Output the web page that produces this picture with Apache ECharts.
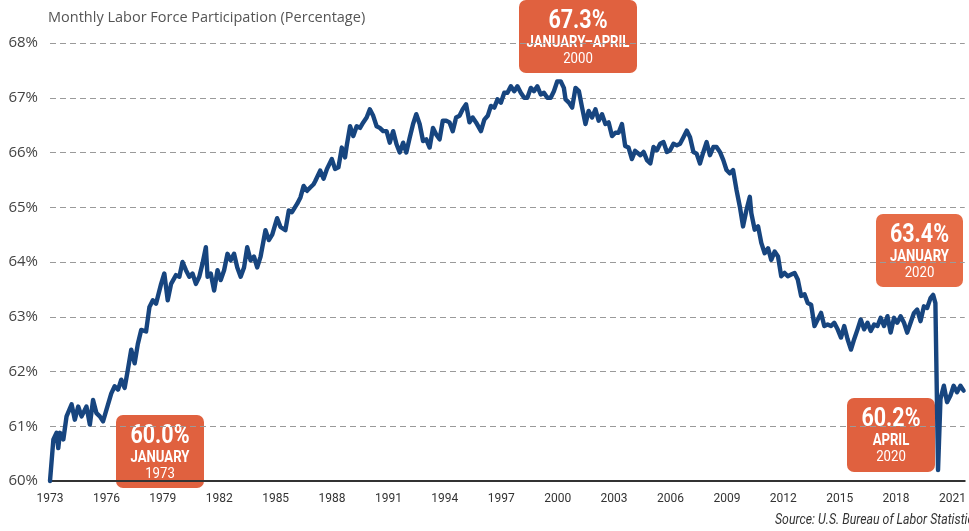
<!DOCTYPE html>
<html>
<head>
<meta charset="utf-8">
<title>Monthly Labor Force Participation</title>
<script src="https://cdn.jsdelivr.net/npm/echarts@6/dist/echarts.min.js"></script>
<style>
  html, body { margin: 0; padding: 0; background: #fff; }
  #chart { width: 969px; height: 531px; }
</style>
</head>
<body>
<div id="chart"></div>
<script>
// decimal years
var years = [
  1973.00, 1973.18, 1973.35, 1973.44, 1973.53, 1973.71, 1973.88, 1974.15, 1974.32, 1974.50,
  1974.68, 1974.94, 1975.12, 1975.29, 1975.47, 1975.65, 1975.82, 1976.00, 1976.26, 1976.44,
  1976.62, 1976.79, 1976.97, 1977.14, 1977.32, 1977.50, 1977.67, 1977.85, 1978.11, 1978.29,
  1978.47, 1978.64, 1978.91, 1979.08, 1979.26, 1979.44, 1979.70, 1979.88, 1980.05, 1980.23,
  1980.41, 1980.58, 1980.76, 1980.94, 1981.11, 1981.29, 1981.38, 1981.55, 1981.73, 1981.91,
  1982.08, 1982.26, 1982.44, 1982.61, 1982.79, 1982.96, 1983.14, 1983.32, 1983.49, 1983.67,
  1983.85, 1984.02, 1984.20, 1984.46, 1984.64, 1984.82, 1985.08, 1985.26, 1985.52, 1985.70,
  1985.87, 1986.14, 1986.32, 1986.49, 1986.67, 1986.84, 1987.02, 1987.11, 1987.37, 1987.55,
  1987.73, 1987.99, 1988.16, 1988.34, 1988.52, 1988.69, 1988.78, 1988.96, 1989.13, 1989.31,
  1989.49, 1989.66, 1989.84, 1990.01, 1990.19, 1990.37, 1990.54, 1990.72, 1990.90, 1991.07,
  1991.25, 1991.43, 1991.60, 1991.78, 1991.95, 1992.13, 1992.31, 1992.48, 1992.66, 1992.84,
  1993.01, 1993.19, 1993.37, 1993.54, 1993.72, 1993.89, 1994.07, 1994.25, 1994.42, 1994.60,
  1994.78, 1994.95, 1995.13, 1995.31, 1995.48, 1995.66, 1995.92, 1996.10, 1996.28, 1996.45,
  1996.63, 1996.80, 1996.98, 1997.16, 1997.33, 1997.51, 1997.69, 1997.86, 1998.04, 1998.22,
  1998.39, 1998.57, 1998.74, 1998.92, 1999.10, 1999.27, 1999.45, 1999.63, 1999.80, 1999.98,
  2000.16, 2000.33, 2000.42, 2000.60, 2000.77, 2000.95, 2001.13, 2001.30, 2001.48, 2001.65,
  2001.83, 2002.01, 2002.18, 2002.36, 2002.54, 2002.71, 2002.89, 2003.07, 2003.24, 2003.42,
  2003.59, 2003.77, 2003.95, 2004.12, 2004.22, 2004.40, 2004.57, 2004.75, 2004.93, 2005.10,
  2005.28, 2005.45, 2005.63, 2005.81, 2005.98, 2006.16, 2006.34, 2006.51, 2006.69, 2006.87,
  2007.04, 2007.22, 2007.39, 2007.57, 2007.75, 2007.92, 2008.10, 2008.28, 2008.45, 2008.63,
  2008.81, 2008.98, 2009.16, 2009.33, 2009.51, 2009.69, 2009.86, 2010.04, 2010.22, 2010.30,
  2010.48, 2010.66, 2010.83, 2011.01, 2011.19, 2011.36, 2011.54, 2011.72, 2011.89, 2012.07,
  2012.24, 2012.42, 2012.60, 2012.77, 2012.95, 2013.13, 2013.30, 2013.48, 2013.66, 2013.83,
  2014.01, 2014.18, 2014.36, 2014.54, 2014.71, 2014.89, 2015.07, 2015.24, 2015.42, 2015.60,
  2015.77, 2015.95, 2016.12, 2016.30, 2016.48, 2016.65, 2016.83, 2017.01, 2017.18, 2017.36,
  2017.54, 2017.71, 2017.89, 2018.06, 2018.24, 2018.42, 2018.59, 2018.77, 2018.95, 2019.12,
  2019.30, 2019.48, 2019.65, 2019.83, 2019.97, 2020.09, 2020.23, 2020.36, 2020.54, 2020.71,
  2020.89, 2021.06, 2021.24, 2021.42, 2021.59
];

// participation rate, percent
var rate = [
  60.00, 60.76, 60.88, 60.60, 60.88, 60.76, 61.18, 61.40, 61.12, 61.36,
  61.18, 61.36, 61.03, 61.48, 61.24, 61.18, 61.09, 61.30, 61.60, 61.73,
  61.67, 61.85, 61.70, 62.03, 62.40, 62.15, 62.50, 62.76, 62.73, 63.18,
  63.30, 63.24, 63.60, 63.79, 63.30, 63.60, 63.76, 63.73, 64.00, 63.85,
  63.73, 63.79, 63.60, 63.73, 63.97, 64.27, 63.73, 63.79, 63.48, 63.85,
  63.67, 63.85, 64.15, 64.03, 64.15, 63.90, 63.73, 63.90, 64.27, 64.03,
  64.10, 63.90, 64.10, 64.58, 64.40, 64.50, 64.80, 64.64, 64.58, 64.94,
  64.91, 65.06, 65.18, 65.39, 65.30, 65.36, 65.42, 65.48, 65.67, 65.52,
  65.70, 65.88, 65.70, 65.73, 66.09, 65.91, 66.12, 66.48, 66.30, 66.48,
  66.45, 66.55, 66.64, 66.79, 66.67, 66.48, 66.45, 66.39, 66.39, 66.18,
  66.39, 66.15, 66.00, 66.18, 66.00, 66.27, 66.52, 66.70, 66.52, 66.21,
  66.24, 66.09, 66.45, 66.33, 66.24, 66.58, 66.58, 66.55, 66.39, 66.64,
  66.67, 66.79, 66.88, 66.55, 66.64, 66.55, 66.39, 66.60, 66.67, 66.85,
  66.82, 66.97, 66.91, 67.09, 67.09, 67.21, 67.12, 67.21, 67.09, 67.00,
  67.00, 67.18, 67.12, 67.21, 67.06, 67.09, 67.00, 67.00, 67.12, 67.30,
  67.30, 67.18, 66.97, 66.91, 66.82, 67.18, 67.12, 66.82, 66.52, 66.76,
  66.64, 66.79, 66.58, 66.70, 66.52, 66.55, 66.30, 66.36, 66.36, 66.52,
  66.12, 66.09, 65.88, 66.03, 66.04, 65.95, 66.01, 65.86, 65.80, 66.10,
  66.04, 66.16, 66.19, 66.01, 66.04, 66.16, 66.13, 66.16, 66.28, 66.40,
  66.28, 66.01, 65.98, 65.80, 66.01, 66.19, 65.95, 66.10, 66.10, 66.01,
  65.86, 65.68, 65.62, 65.68, 65.32, 65.01, 64.65, 64.95, 65.19, 64.89,
  64.59, 64.65, 64.35, 64.16, 64.25, 64.04, 64.19, 64.10, 63.74, 63.80,
  63.74, 63.77, 63.80, 63.68, 63.38, 63.41, 63.25, 63.22, 62.83, 62.95,
  63.07, 62.83, 62.86, 62.83, 62.89, 62.77, 62.62, 62.83, 62.59, 62.40,
  62.59, 62.77, 62.95, 62.77, 62.89, 62.74, 62.86, 62.83, 62.98, 62.83,
  63.01, 62.71, 62.98, 62.89, 63.01, 62.89, 62.71, 62.89, 63.07, 63.13,
  62.92, 63.19, 63.16, 63.34, 63.40, 63.25, 60.20, 61.50, 61.74, 61.44,
  61.56, 61.74, 61.62, 61.74, 61.65
];

var startYear = 1973;
var yRange = [60, 68];

// callout boxes: big value, month, year
var callouts = [
  { big: '67.3%', month: 'JANUARY\u2013APRIL', year: '2000', x: 519, y: 0, w: 118, h: 73, color: '#E0613F' },
  { big: '63.4%', month: 'JANUARY', year: '2020', x: 876, y: 214, w: 87, h: 73, color: '#E66C47' },
  { big: '60.2%', month: 'APRIL', year: '2020', x: 847, y: 398, w: 88, h: 74, color: '#E0613F' },
  { big: '60.0%', month: 'JANUARY', year: '1973', x: 116, y: 415, w: 88, h: 73, color: '#E0613F' }
];

var sans = "Roboto, 'Liberation Sans', sans-serif";

// no condensed font installed, so squeeze the text horizontally
function squeezedText(str, x, y, font, sx, align) {
  return {
    type: 'text',
    x: x,
    y: y,
    scaleX: sx,
    style: { text: str, x: 0, y: 0, textAlign: align || 'center', textVerticalAlign: 'middle', fill: '#fff', font: font }
  };
}

function calloutGraphic(c) {
  return {
    type: 'group',
    x: c.x,
    y: c.y,
    z: 100,
    children: [
      { type: 'rect', shape: { x: 0, y: 0, width: c.w, height: c.h, r: 7 }, style: { fill: c.color } },
      squeezedText(c.big, c.w / 2, 22, 'bold 25px ' + sans, 0.86),
      squeezedText(c.month, c.w / 2, 43, 'bold 16px ' + sans, 0.82),
      squeezedText(c.year, c.w / 2, 59, '15px ' + sans, 0.88)
    ]
  };
}

var seriesData = years.map(function (y, i) {
  return [y - startYear, rate[i]];
});

var myChart = echarts.init(document.getElementById('chart'));

var source = squeezedText('Source: U.S. Bureau of Labor Statistics', 775, 520, 'italic 14px ' + sans, 0.88, 'left');
source.style.fill = '#333';

var option = {
  animation: false,
  grid: { left: 50, right: 0, top: 43, bottom: 50 },
  xAxis: {
    type: 'value',
    min: 0,
    max: 48.65,
    interval: 3,
    axisLine: { show: true, onZero: false, lineStyle: { color: '#333', width: 2 } },
    axisTick: { show: false },
    splitLine: { show: false },
    axisLabel: {
      margin: 12,
      color: '#333',
      fontSize: 12,
      fontFamily: sans,
      showMaxLabel: false,
      formatter: function (v) {
        return (v % 3 === 0) ? String(startYear + v) : '';
      }
    }
  },
  yAxis: {
    type: 'value',
    min: yRange[0],
    max: yRange[1],
    interval: 1,
    axisLine: { show: false },
    axisTick: { show: false },
    axisLabel: {
      margin: 12,
      color: '#444',
      fontSize: 15,
      fontFamily: "'Open Sans', sans-serif",
      formatter: '{value}%'
    },
    splitLine: { lineStyle: { color: '#9a9a9a', width: 1.2, type: [6, 4] } }
  },
  series: [
    {
      type: 'line',
      data: seriesData,
      showSymbol: false,
      clip: false,
      lineStyle: { color: '#17457F', width: 4.4, cap: 'round', join: 'round' },
      z: 5
    }
  ],
  graphic: [
    { type: 'text', left: 48, top: 10, style: { text: 'Monthly Labor Force Participation (Percentage)',
        fill: '#555', font: '14.5px "Open Sans", sans-serif' } },
    source
  ].concat(callouts.map(calloutGraphic))
};

myChart.setOption(option);
</script>
</body>
</html>
